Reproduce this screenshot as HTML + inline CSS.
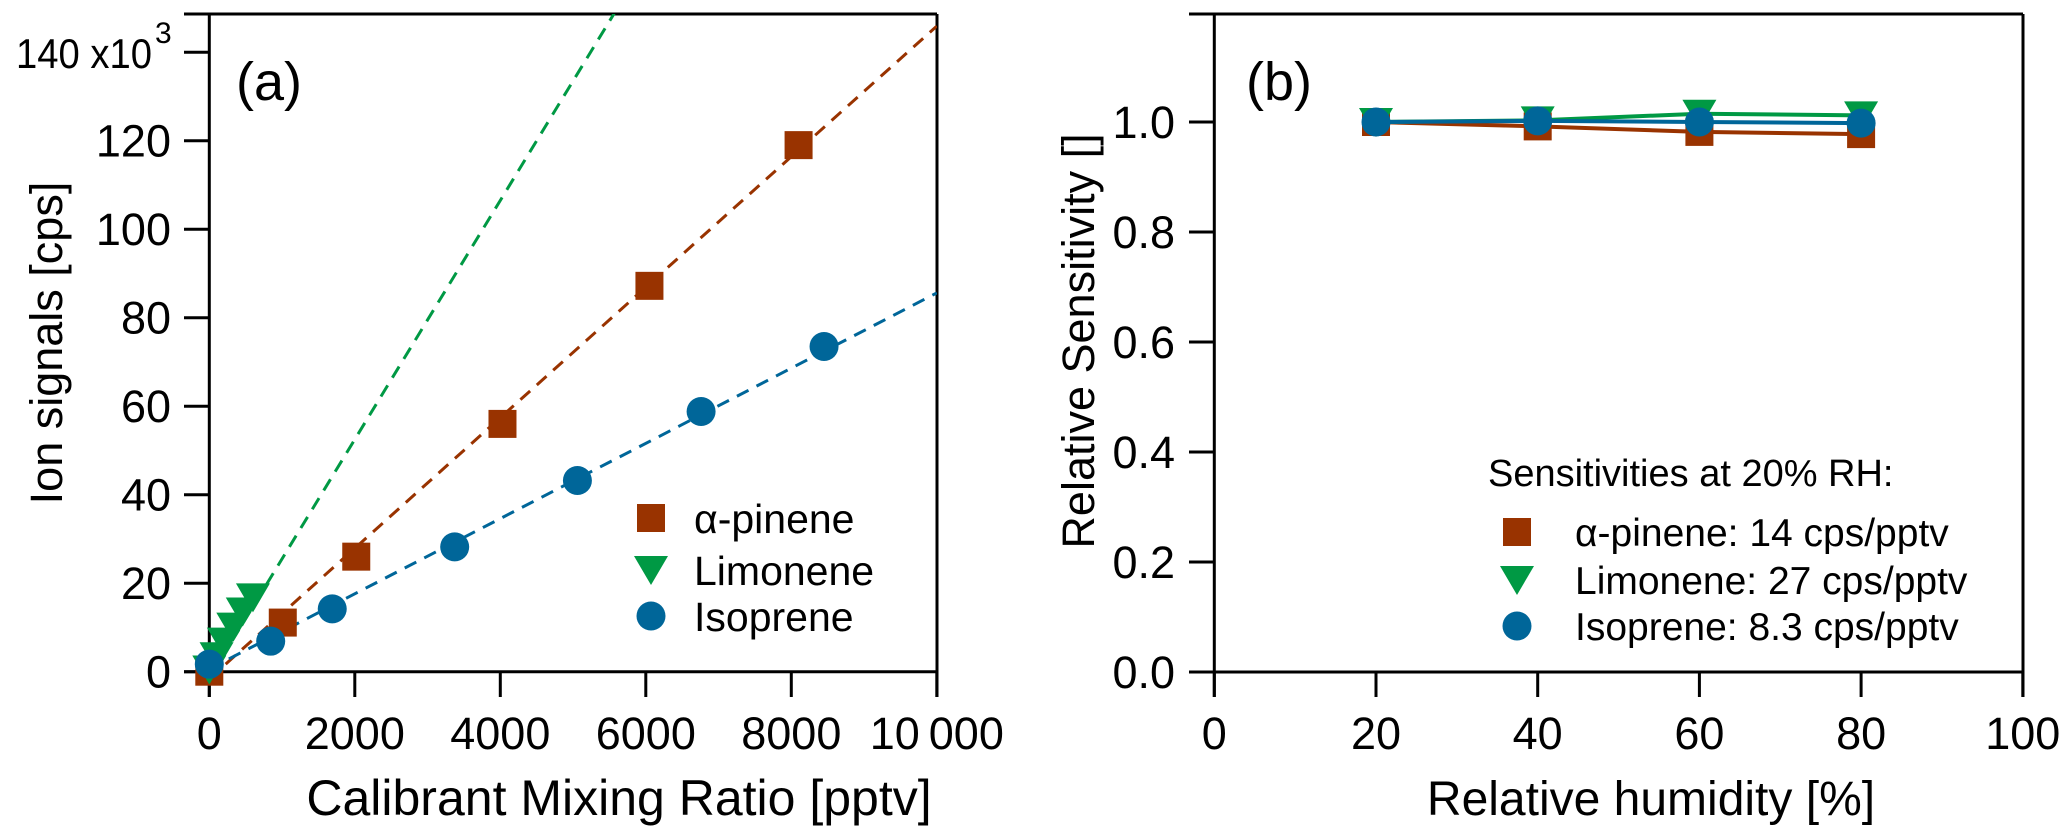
<!DOCTYPE html>
<html><head><meta charset="utf-8"><style>
html,body{margin:0;padding:0;background:#fff;}
svg{display:block;}
text{font-family:"Liberation Sans",sans-serif;fill:#000;}
</style></head><body>
<svg id="chart" width="2067" height="828" viewBox="0 0 2067 828" xmlns="http://www.w3.org/2000/svg">
<g id="pa"></g>
<g id="pb"></g>
</svg>
<script>
// ---- Panel (a) data ----
const pineneX = [0, 1010, 2020, 4030, 6050, 8100];
const pineneY = [0, 11.1, 26, 56, 87.2, 119];
const limoneneX = [0, 100, 200, 330, 460, 600];
const limoneneY = [0.5, 3.5, 6.8, 10.2, 13.6, 16.8];
const isopreneX = [0, 844, 1690, 3373, 5060, 6760, 8450];
const isopreneY = [1.7, 6.9, 14.2, 28.2, 43.2, 58.8, 73.5];
const fitSlopes = [14.75, 27, 8.5];
const fitIntercepts = [-1.6, -1.5, 0.6];
const aYTicks = [0, 20, 40, 60, 80, 100, 120, 140];
const aXTicks = [0, 2000, 4000, 6000, 8000, 10000];
const aXTickLabels = ["0", "2000", "4000", "6000", "8000", "10\u2009000"];
// ---- Panel (b) data ----
const rhX = [20, 40, 60, 80];
const relPinene = [1.0, 0.992, 0.982, 0.978];
const relLimonene = [1.0, 1.003, 1.015, 1.012];
const relIsoprene = [1.0, 1.002, 1.0, 0.998];
const bYTicks = [0, 0.2, 0.4, 0.6, 0.8, 1.0];
const bXTicks = [0, 20, 40, 60, 80, 100];

const NS = "http://www.w3.org/2000/svg";
const RED = "#993300", GREEN = "#009944", BLUE = "#006699";
const TICKFS = 45, TITLEFS = 50, YTITLEFS = 45;
function mk(parent, tag, attrs, txt){
  const e = document.createElementNS(NS, tag);
  for (const k in attrs) e.setAttribute(k, attrs[k]);
  if (txt !== undefined) e.textContent = txt;
  parent.appendChild(e);
  return e;
}
function marker(g, shape, cx, cy, color){
  let e;
  if (shape === "square") e = mk(g, "rect", {x: cx-14, y: cy-14, width: 28, height: 28, fill: color});
  else if (shape === "tri") e = mk(g, "polygon", {points: `${cx-17},${cy-14} ${cx+17},${cy-14} ${cx},${cy+15}`, fill: color});
  else e = mk(g, "circle", {cx: cx, cy: cy, r: 14.5, fill: color});
  return e;
}

// ===== Panel A =====
const pa = document.getElementById("pa");
const ax = v => 209.3 + v * 0.07275;
const ay = v => 671.7 - v * 4.425;
let e;
e = mk(pa, "line", {x1: 209.3, y1: 14, x2: 209.3, y2: 697, stroke: "#000", "stroke-width": 3});
 
e = mk(pa, "line", {x1: 184, y1: 671.7, x2: 937, y2: 671.7, stroke: "#000", "stroke-width": 3});
 
e = mk(pa, "line", {x1: 184, y1: 14, x2: 937, y2: 14, stroke: "#000", "stroke-width": 3});
 
e = mk(pa, "line", {x1: 937, y1: 14, x2: 937, y2: 697, stroke: "#000", "stroke-width": 3});
 
aYTicks.forEach(v => {
  const y = ay(v);
  const t = mk(pa, "line", {x1: 184, y1: y, x2: 209, y2: y, stroke: "#000", "stroke-width": 3});
   
  if (v === 140) {
    const l = mk(pa, "text", {x: 16, y: y + 16, "font-size": 42, textLength: 136, lengthAdjust: "spacingAndGlyphs"}, "140 x10");
     
    const s = mk(pa, "text", {x: 155, y: y - 9, "font-size": 30}, "3");
     
  } else {
    const l = mk(pa, "text", {x: 171, y: y + 16, "text-anchor": "end", "font-size": TICKFS}, String(v));
     
  }
});
aXTicks.forEach((v, i) => {
  const x = ax(v);
  const t = mk(pa, "line", {x1: x, y1: 672, x2: x, y2: 697, stroke: "#000", "stroke-width": 3});
   
  const l = mk(pa, "text", {x: x, y: 749, "text-anchor": "middle", "font-size": TICKFS}, aXTickLabels[i]);
   
});
e = mk(pa, "text", {x: 619, y: 815, "text-anchor": "middle", "font-size": TITLEFS}, "Calibrant Mixing Ratio [pptv]");
 
e = mk(pa, "text", {x: 0, y: 0, "text-anchor": "middle", "font-size": YTITLEFS, transform: "translate(62,343) rotate(-90)"}, "Ion signals [cps]");
 
e = mk(pa, "text", {x: 236, y: 100, "font-size": 54}, "(a)");
 

const defs = mk(document.getElementById("chart"), "defs", {});
const cp = mk(defs, "clipPath", {id: "clipA"});
mk(cp, "rect", {x: 209, y: 14, width: 728, height: 700});
const fitColors = [RED, GREEN, BLUE];
const fitNames = ['fit-line-pinene', 'fit-line-limonene', 'fit-line-isoprene'];
fitSlopes.forEach((s, i) => {
  const x0 = 0, x1 = 10000;
  const y0 = fitIntercepts[i], y1 = fitIntercepts[i] + s * x1 / 1000;
  const l = mk(pa, "line", {x1: ax(x0), y1: ay(y0), x2: ax(x1), y2: ay(y1), stroke: fitColors[i], "stroke-width": 3, "stroke-dasharray": "13,9", "clip-path": "url(#clipA)"});
   
});
pineneX.forEach((x, i) => {
  const m = marker(pa, "square", ax(x), ay(pineneY[i]), RED);
   
});
limoneneX.forEach((x, i) => {
  const m = marker(pa, "tri", ax(x), ay(limoneneY[i]), GREEN);
   
});
isopreneX.forEach((x, i) => {
  const m = marker(pa, "circle", ax(x), ay(isopreneY[i]), BLUE);
   
});
const legA = [["square", RED, "\u03b1-pinene", 518], ["tri", GREEN, "Limonene", 570], ["circle", BLUE, "Isoprene", 616]];
legA.forEach(d => {
  const m = marker(pa, d[0], 651, d[3], d[1]);
   
  const t = mk(pa, "text", {x: 694, y: d[3] + 15, "font-size": 41}, d[2]);
   
});

// ===== Panel B =====
const pb = document.getElementById("pb");
const bx = v => 1214.3 + v * 8.085;
const by = v => 672 - v * 550;
e = mk(pb, "line", {x1: 1214.3, y1: 14, x2: 1214.3, y2: 697, stroke: "#000", "stroke-width": 3});
 
e = mk(pb, "line", {x1: 1189, y1: 672, x2: 2023, y2: 672, stroke: "#000", "stroke-width": 3});
 
e = mk(pb, "line", {x1: 1189, y1: 14, x2: 2023, y2: 14, stroke: "#000", "stroke-width": 3});
 
e = mk(pb, "line", {x1: 2023, y1: 14, x2: 2023, y2: 697, stroke: "#000", "stroke-width": 3});
 
bYTicks.forEach(v => {
  const y = by(v);
  const t = mk(pb, "line", {x1: 1189, y1: y, x2: 1214, y2: y, stroke: "#000", "stroke-width": 3});
   
  const l = mk(pb, "text", {x: 1175, y: y + 16, "text-anchor": "end", "font-size": TICKFS}, v.toFixed(1));
   
});
bXTicks.forEach(v => {
  const x = bx(v);
  const t = mk(pb, "line", {x1: x, y1: 672, x2: x, y2: 697, stroke: "#000", "stroke-width": 3});
   
  const l = mk(pb, "text", {x: x, y: 749, "text-anchor": "middle", "font-size": TICKFS}, String(v));
   
});
e = mk(pb, "text", {x: 1651, y: 815, "text-anchor": "middle", "font-size": 48}, "Relative humidity [%]");
 
e = mk(pb, "text", {x: 0, y: 0, "text-anchor": "middle", "font-size": YTITLEFS, transform: "translate(1094,341) rotate(-90)"}, "Relative Sensitivity []");
 
e = mk(pb, "text", {x: 1246, y: 100, "font-size": 54}, "(b)");
 

const series = [[relPinene, RED, "square", 'pinene-rel-line', 'pinene-rel-point'],
                [relLimonene, GREEN, "tri", 'limonene-rel-line', 'limonene-rel-point'],
                [relIsoprene, BLUE, "circle", 'isoprene-rel-line', 'isoprene-rel-point']];
series.forEach(s => {
  const pts = rhX.map((x, i) => bx(x) + "," + by(s[0][i])).join(" ");
  const pl = mk(pb, "polyline", {points: pts, fill: "none", stroke: s[1], "stroke-width": 4});
   
});
series.forEach(s => {
  rhX.forEach((x, i) => {
    const m = marker(pb, s[2], bx(x), by(s[0][i]), s[1]);
     
  });
});
e = mk(pb, "text", {x: 1488, y: 486, "font-size": 38}, "Sensitivities at 20% RH:");
 
const legB = [["square", RED, "\u03b1-pinene: 14 cps/pptv", 532], ["tri", GREEN, "Limonene: 27 cps/pptv", 580], ["circle", BLUE, "Isoprene: 8.3 cps/pptv", 626]];
legB.forEach(d => {
  const m = marker(pb, d[0], 1517, d[3], d[1]);
   
  const t = mk(pb, "text", {x: 1575, y: d[3] + 14, "font-size": 39}, d[2]);
   
});
</script>
</body></html>
